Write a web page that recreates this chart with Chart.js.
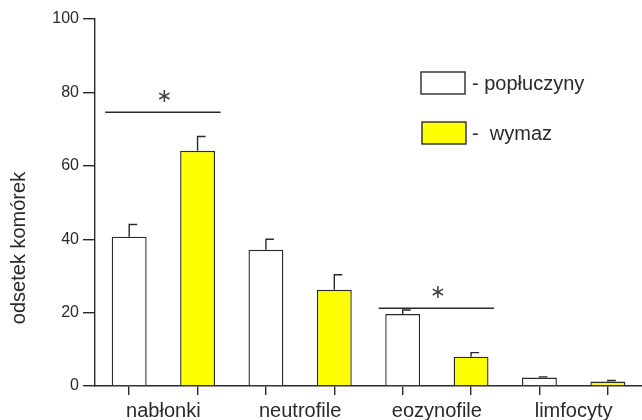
<!DOCTYPE html>
<html>
<head>
<meta charset="utf-8">
<script src="https://cdn.jsdelivr.net/npm/chart.js@4.4.0/dist/chart.umd.min.js"></script>
<style>
  body { margin: 0; background: #fff; }
  #wrap { width: 642px; height: 420px; }
</style>
</head>
<body>
<div id="wrap"><canvas id="chart"></canvas></div>
<script>
// groups on the x axis and the two sample types
const categories = ['nabłonki', 'neutrofile', 'eozynofile', 'limfocyty'];
const seriesNames = ['popłuczyny', 'wymaz'];
const seriesColors = ['#ffffff', '#ffff00'];

// mean percentage of cells
const popluczyny = [40.7, 37.1, 19.6, 2.3];
const wymaz = [64.1, 26.2, 8.0, 1.2];

// upper error bars (SD / SEM)
const popluczynyErr = [3.3, 2.9, 1.1, 0.2];
const wymazErr = [3.9, 4.1, 1.1, 0.3];

const yTicks = [0, 20, 40, 60, 80, 100];

// significance bars: category index and level on the y scale
const significance = [
  { category: 0, level: 74.6 },
  { category: 2, level: 21.2 }
];

const FONT = '"Liberation Sans", Arial, Helvetica, sans-serif';
const INK = '#2a2a2a';

// one bar per slot, so that every bar gets its own tick mark
let barLabels = [];
let barValues = [];
let barErrors = [];
let barColors = [];
categories.forEach((cat, i) => {
  barLabels.push(cat + ' - ' + seriesNames[0]);
  barValues.push(popluczyny[i]);
  barErrors.push(popluczynyErr[i]);
  barColors.push(seriesColors[0]);
  barLabels.push(cat + ' - ' + seriesNames[1]);
  barValues.push(wymaz[i]);
  barErrors.push(wymazErr[i]);
  barColors.push(seriesColors[1]);
});

/**
 * Error bars, significance marks, the legend and the y title.
 */
const extras = {
  id: 'extras',
  afterDatasetsDraw: (chart) => {
    const ctx = chart.ctx;
    const y = chart.scales.y;
    const bars = chart.getDatasetMeta(0).data;
    ctx.save();
    ctx.strokeStyle = INK;
    ctx.lineWidth = 1.4;
    bars.forEach((bar, i) => {
      const top = y.getPixelForValue(barValues[i] + barErrors[i]);
      ctx.beginPath();
      ctx.moveTo(bar.x, bar.y);
      ctx.lineTo(bar.x, top);
      ctx.lineTo(bar.x + 8, top);
      ctx.stroke();
    });
    significance.forEach((s) => {
      const a = bars[s.category * 2];
      const b = bars[s.category * 2 + 1];
      const ly = y.getPixelForValue(s.level);
      ctx.beginPath();
      ctx.moveTo(a.x - 24, ly);
      ctx.lineTo(b.x + 23, ly);
      ctx.stroke();
      ctx.fillStyle = '#444';
      ctx.font = '19px "DejaVu Sans", ' + FONT;
      ctx.textAlign = 'center';
      ctx.textBaseline = 'middle';
      ctx.fillText('\u2217', (a.x + b.x) / 2 + 1, ly - 15);
    });
    ctx.restore();
  },
  afterDraw: (chart) => {
    const ctx = chart.ctx;
    ctx.save();
    // legend
    const rows = [
      { x: 421, y: 72, text: '- ' + seriesNames[0] },
      { x: 422, y: 122, text: '-  ' + seriesNames[1] }
    ];
    ctx.font = '20px ' + FONT;
    ctx.textAlign = 'left';
    ctx.textBaseline = 'middle';
    ctx.lineWidth = 1.4;
    rows.forEach((r, i) => {
      ctx.fillStyle = seriesColors[i];
      ctx.fillRect(r.x, r.y, 44, 22);
      ctx.strokeStyle = INK;
      ctx.strokeRect(r.x, r.y, 44, 22);
      ctx.fillStyle = INK;
      ctx.fillText(r.text, 472, r.y + 12);
    });
    // y axis title
    ctx.translate(19, 248);
    ctx.rotate(-Math.PI / 2);
    ctx.textAlign = 'center';
    ctx.fillText('odsetek komórek', 0, 0);
    ctx.restore();
  }
};

new Chart(document.getElementById('chart'), {
  'type': 'bar',
  'data': {
    'labels': barLabels,
    'datasets': [{
      'data': barValues,
      'backgroundColor': barColors,
      'borderColor': INK,
      'borderWidth': 1.4,
      'barPercentage': 0.51,
      'categoryPercentage': 1
    }]
  },
  'options': {
    'responsive': true,
    'maintainAspectRatio': false,
    'animation': false,
    'layout': { 'padding': { 'left': 0, 'right': 0, 'top': 19, 'bottom': 0 } },
    'plugins': { 'legend': { 'display': false }, 'tooltip': { 'enabled': false } },
    'scales': {
      'x': {
        'type': 'category',
        'weight': 0,
        'offset': true,
        'grid': { 'drawOnChartArea': false, 'offset': false, 'tickLength': 9, 'color': INK, 'lineWidth': 1.4 },
        'border': { 'color': INK, 'width': 1.4 },
        'ticks': { 'display': false },
        'afterFit': (scale) => { scale.height = 12; }
      },
      'x2': {
        'type': 'category',
        'position': 'bottom',
        'weight': 1,
        'labels': categories,
        'offset': true,
        'grid': { 'display': false, 'drawTicks': false },
        'border': { 'display': false },
        'ticks': { 'color': INK, 'padding': 1, 'font': { 'family': FONT, 'size': 20 } },
        'afterFit': (scale) => { scale.height = 22; }
      },
      'y': {
        'min': 0,
        'max': 100,
        'afterBuildTicks': (scale) => { scale.ticks = yTicks.map((v) => ({ 'value': v })); },
        'grid': { 'drawOnChartArea': false, 'tickLength': 12, 'color': INK, 'lineWidth': 1.4 },
        'border': { 'color': INK, 'width': 1.4 },
        'ticks': { 'color': INK, 'padding': 4, 'font': { 'family': FONT, 'size': 16 } },
        'afterFit': (scale) => { scale.width = 95; }
      }
    }
  },
  'plugins': [extras]
});
</script>
</body>
</html>
